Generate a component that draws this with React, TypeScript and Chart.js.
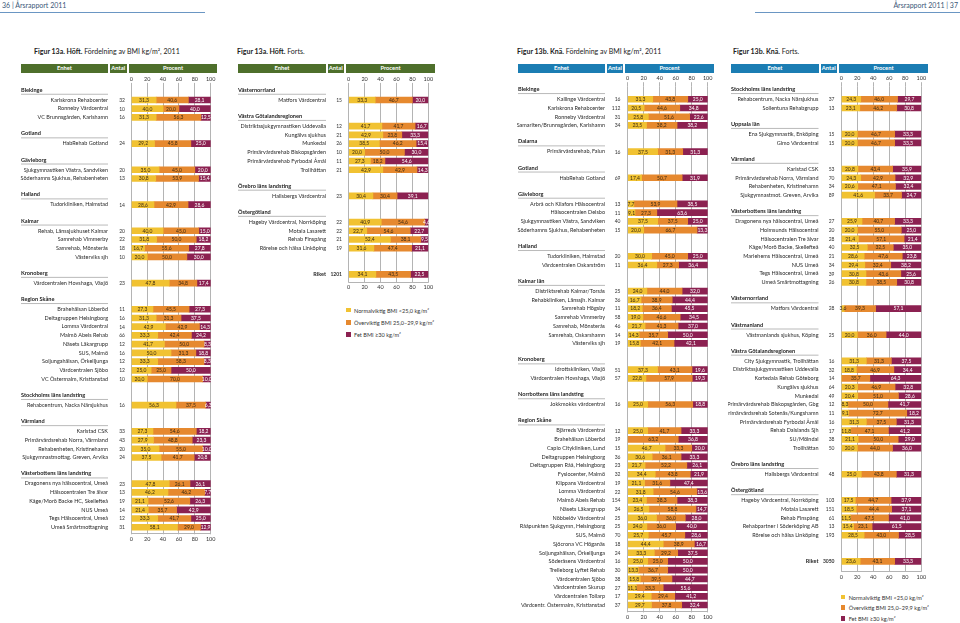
import React, { useEffect, useRef } from 'react';
import { Chart, registerables } from 'chart.js';
Chart.register(...registerables);

const FONT = 'Lato, "Open Sans", sans-serif';
const C_NORMAL = '#F1C232';
const C_OVER = '#E6892F';
const C_FET = '#8C2151';
const GREEN = '#4E6F2B';
const BLUE = '#1B7DB3';
const GRID = '#b4b4b4';

const seriesNames = ['Normalviktig BMI <25,0 kg/m²', 'Överviktig BMI 25,0–29,9 kg/m²', 'Fet BMI ≥30 kg/m²'];
const xTicks = [0, 20, 40, 60, 80, 100];

// ---------- Figur 13a. Höft ----------
const p1Labels = [
  '§Blekinge', 'Karlskrona Rehabcenter', 'Ronneby Vårdcentral', 'VC Brunnsgården, Karlshamn', '',
  '§Gotland', 'HabRehab Gotland', '',
  '§Gävleborg', 'Sjukgymnastiken Västra, Sandviken', 'Söderhamns Sjukhus, Rehabenheten', '',
  '§Halland', 'Tudorkliniken, Halmstad', '',
  '§Kalmar', 'Rehab, Länssjukhuset Kalmar', 'Samrehab Vimmerby', 'Samrehab, Mönsterås', 'Västerviks sjh', '',
  '§Kronoberg', 'Vårdcentralen Hovshaga, Växjö', '',
  '§Region Skåne', 'Brahehälsan Löberöd', 'Deltagruppen Helsingborg', 'Lomma Vårdcentral', 'Malmö Abels Rehab', 'Näsets Läkargrupp', 'SUS, Malmö', 'Soljungahälsan, Örkelljunga', 'Vårdcentralen Sjöbo', 'VC Östermalm, Kristianstad', '',
  '§Stockholms läns landsting', 'Rehabcentrum, Nacka Närsjukhus', '',
  '§Värmland', 'Karlstad CSK', 'Primärvårdsrehab Norra, Värmland', 'Rehabenheten, Kristinehamn', 'Sjukgymnastmottag. Greven, Arvika', '',
  '§Västerbottens läns landsting', 'Dragonens nya hälsocentral, Umeå', 'Hälsocentralen Tre älvar', 'Kåge/Morö Backe HC, Skellefteå', 'NUS Umeå', 'Tegs Hälsocentral, Umeå', 'Umeå Smärtmottagning',
];
const p1Antal = [null, 32, 10, 16, null, null, 24, null, null, 20, 13, null, null, 14, null, null, 20, 22, 18, 10, null, null, 23, null, null, 11, 16, 14, 66, 12, 16, 12, 12, 10, null, null, 16, null, null, 33, 43, 20, 24, null, null, 23, 13, 19, 14, 12, 31];
const p1Normal = [null, 31.3, 40.0, 31.3, null, null, 29.2, null, null, 35.0, 30.8, null, null, 28.6, null, null, 40.0, 31.8, 16.7, 20.0, null, null, 47.8, null, null, 27.3, 31.3, 42.9, 33.3, 41.7, 50.0, 33.3, 25.0, 20.0, null, null, 56.3, null, null, 27.3, 27.9, 35.0, 37.5, null, null, 47.8, 46.2, 21.1, 21.4, 33.3, 58.1];
const p1Over = [null, 40.6, 20.0, 56.3, null, null, 45.8, null, null, 45.0, 53.9, null, null, 42.9, null, null, 45.0, 50.0, 55.6, 50.0, null, null, 34.8, null, null, 45.5, 31.3, 42.9, 42.4, 50.0, 31.3, 58.3, 25.0, 70.0, null, null, 37.5, null, null, 54.6, 48.8, 55.0, 41.7, null, null, 26.1, 46.2, 52.6, 35.7, 41.7, 29.0];
const p1Fet = [null, 28.1, 40.0, 12.5, null, null, 25.0, null, null, 20.0, 15.4, null, null, 28.6, null, null, 15.0, 18.2, 27.8, 30.0, null, null, 17.4, null, null, 27.3, 37.5, 14.3, 24.2, 8.3, 18.8, 8.3, 50.0, 10.0, null, null, 6.3, null, null, 18.2, 23.3, 10.0, 20.8, null, null, 26.1, 7.7, 26.3, 42.9, 25.0, 12.9];

// ---------- Figur 13a. Höft. Forts. ----------
const p2Labels = [
  '§Västernorrland', 'Matfors Vårdcentral', '',
  '§Västra Götalandsregionen', 'Distriktssjukgymnastiken Uddevalla', 'Kungälvs sjukhus', 'Munkedal', 'Primärvårdsrehab Biskopsgården', 'Primärvårdsrehab Fyrbodal Åmål', 'Trollhättan', '',
  '§Örebro läns landsting', 'Hallsbergs Vårdcentral', '',
  '§Östergötland', 'Hageby Vårdcentral, Norrköping', 'Motala Lasarett', 'Rehab Finspång', 'Rörelse och hälsa Linköping', '', '',
  'Riket',
];
const p2Antal = [null, 15, null, null, 12, 21, 26, 10, 11, 21, null, null, 23, null, null, 22, 22, 21, 19, null, null, 1201];
const p2Normal = [null, 33.3, null, null, 41.7, 42.9, 38.5, 20.0, 27.3, 42.9, null, null, 30.4, null, null, 40.9, 22.7, 52.4, 31.6, null, null, 34.1];
const p2Over = [null, 46.7, null, null, 41.7, 23.8, 46.2, 50.0, 18.2, 42.9, null, null, 30.4, null, null, 54.6, 54.6, 38.1, 47.4, null, null, 43.5];
const p2Fet = [null, 20.0, null, null, 16.7, 33.3, 15.4, 30.0, 54.6, 14.3, null, null, 39.1, null, null, 4.6, 22.7, 9.5, 21.1, null, null, 22.5];

// ---------- Figur 13b. Knä ----------
const p3Labels = [
  '§Blekinge', 'Kallinge Vårdcentral', 'Karlskrona Rehabcenter', 'Ronneby Vårdcentral', 'Samariten/Brunnsgården, Karlshamn', '',
  '§Dalarna', 'Primärvårdsrehab, Falun', '',
  '§Gotland', 'HabRehab Gotland', '',
  '§Gävleborg', 'Arbrå och Kilafors Hälsocentral', 'Hälsocentralen Delsbo', 'Sjukgymnastiken Västra, Sandviken', 'Söderhamns Sjukhus, Rehabenheten', '',
  '§Halland', 'Tudorkliniken, Halmstad', 'Vårdcentralen Oskarström', '',
  '§Kalmar län', 'Distriktsrehab Kalmar/Torsås', 'Rehabkliniken, Länssjh. Kalmar', 'Samrehab Högsby', 'Samrehab Vimmerby', 'Samrehab, Mönsterås', 'Samrehab, Oskarshamn', 'Västerviks sjh', '',
  '§Kronoberg', 'Idrottskliniken, Växjö', 'Vårdcentralen Hovshaga, Växjö', '',
  '§Norrbottens läns landsting', 'Jokkmokks vårdcentral', '',
  '§Region Skåne', 'Bjärreds Vårdcentral', 'Brahehälsan Löberöd', 'Capio Citykliniken, Lund', 'Deltagruppen Helsingborg', 'Deltagruppen Råå, Helsingborg', 'Fysiocenter, Malmö', 'Klippans Vårdcentral', 'Lomma Vårdcentral', 'Malmö Abels Rehab', 'Näsets Läkargrupp', 'Nöbbelöv Vårdcentral', 'Rååpunkten Sjukgymn, Helsingborg', 'SUS, Malmö', 'Sjöcrona VC Höganäs', 'Soljungahälsan, Örkelljunga', 'Söderåsens Vårdcentral', 'Trelleborg Lyftet Rehab', 'Vårdcentralen Sjöbo', 'Vårdcentralen Skurup', 'Vårdcentralen Tollarp', 'Vårdcentr. Östermalm, Kristianstad',
];
const p3Antal = [null, 16, 112, 31, 34, null, null, 16, null, null, 69, null, null, 13, 11, 40, 15, null, null, 20, 11, null, null, 25, 36, 11, 58, 46, 14, 19, null, null, 51, 57, null, null, 16, null, null, 12, 19, 15, 36, 23, 32, 19, 22, 154, 34, 25, 25, 70, 18, 24, 16, 30, 38, 27, 17, 37];
const p3Normal = [null, 31.3, 20.5, 25.8, 23.5, null, null, 37.5, null, null, 17.4, null, null, 7.7, 9.1, 37.5, 20.0, null, null, 30.0, 36.4, null, null, 24.0, 16.7, 18.2, 19.0, 21.7, 14.3, 15.8, null, null, 37.3, 22.8, null, null, 25.0, null, null, 25.0, 0, 46.7, 30.6, 21.7, 34.4, 21.1, 31.8, 23.4, 26.5, 36.0, 24.0, 25.7, 44.4, 33.3, 25.0, 13.3, 15.8, 11.1, 29.4, 29.7];
const p3Over = [null, 43.8, 44.6, 51.6, 38.2, null, null, 31.3, null, null, 50.7, null, null, 53.9, 27.3, 37.5, 66.7, null, null, 45.0, 27.3, null, null, 44.0, 38.9, 36.4, 46.6, 41.3, 35.7, 42.1, null, null, 43.1, 57.9, null, null, 56.3, null, null, 41.7, 63.2, 33.3, 36.1, 52.2, 43.8, 31.6, 54.6, 38.3, 58.8, 36.0, 36.0, 45.7, 38.9, 29.2, 25.0, 36.7, 39.5, 33.3, 29.4, 37.8];
const p3Fet = [null, 25.0, 34.8, 22.6, 38.2, null, null, 31.3, null, null, 31.9, null, null, 38.5, 63.6, 25.0, 13.3, null, null, 25.0, 36.4, null, null, 32.0, 44.4, 45.5, 34.5, 37.0, 50.0, 42.1, null, null, 19.6, 19.3, null, null, 18.8, null, null, 33.3, 36.8, 20.0, 33.3, 26.1, 21.9, 47.4, 13.6, 38.3, 14.7, 28.0, 40.0, 28.6, 16.7, 37.5, 50.0, 50.0, 44.7, 55.6, 41.2, 32.4];

// ---------- Figur 13b. Knä. Forts. ----------
const p4Labels = [
  '§Stockholms läns landsting', 'Rehabcentrum, Nacka Närsjukhus', 'Sollentuna Rehabgrupp', '',
  '§Uppsala län', 'Ena Sjukgymnastik, Enköping', 'Gimo Vårdcentral', '',
  '§Värmland', 'Karlstad CSK', 'Primärvårdsrehab Norra, Värmland', 'Rehabenheten, Kristinehamn', 'Sjukgymnastmot. Greven, Arvika', '',
  '§Västerbottens läns landsting', 'Dragonens nya hälsocentral, Umeå', 'Holmsunds Hälsocentral', 'Hälsocentralen Tre älvar', 'Kåge/Morö Backe, Skellefteå', 'Mariehems Hälsocentral, Umeå', 'NUS Umeå', 'Tegs Hälsocentral, Umeå', 'Umeå Smärtmottagning', '',
  '§Västernorrland', 'Matfors Vårdcentral', '',
  '§Västmanland', 'Västmanlands sjukhus, Köping', '',
  '§Västra Götalandsregionen', 'City Sjukgymnastik, Trollhättan', 'Distriktssjukgymnastiken Uddevalla', 'Kortedala Rehab Göteborg', 'Kungälvs sjukhus', 'Munkedal', 'Primärvårdsrehab Biskopsgården, Gbg', 'Primärvårdsrehab Sotenäs/Kungshamn', 'Primärvårdsrehab Fyrbodal Åmål', 'Rehab Dalslands Sjh', 'SU/Mölndal', 'Trollhättan', '',
  '§Örebro läns landsting', 'Hallsbergs Vårdcentral', '',
  '§Östergötland', 'Hageby Vårdcentral, Norrköping', 'Motala Lasarett', 'Rehab Finspång', 'Rehabpartner i Söderköping AB', 'Rörelse och hälsa Linköping', '', '',
  'Riket',
];
const p4Antal = [null, 37, 13, null, null, 15, 15, null, null, 53, 70, 34, 89, null, null, 27, 20, 28, 40, 21, 34, 39, 26, null, null, 28, null, null, 25, null, null, 16, 32, 14, 64, 49, 12, 11, 16, 17, 38, 50, null, null, 48, null, null, 103, 151, 61, 13, 193, null, null, 3050];
const p4Normal = [null, 24.3, 23.1, null, null, 20.0, 20.0, null, null, 20.8, 24.3, 20.6, 41.6, null, null, 25.9, 20.0, 21.4, 32.5, 28.6, 29.4, 30.8, 30.8, null, null, 3.6, null, null, 20.0, null, null, 31.3, 18.8, 0, 20.3, 20.4, 8.3, 9.1, 31.3, 11.8, 21.1, 20.0, null, null, 25.0, null, null, 17.5, 18.5, 11.5, 15.4, 28.5, null, null, 23.6];
const p4Over = [null, 46.0, 46.2, null, null, 46.7, 46.7, null, null, 43.4, 42.9, 47.1, 33.7, null, null, 40.7, 55.0, 57.1, 32.5, 47.6, 32.4, 43.6, 38.5, null, null, 39.3, null, null, 36.0, null, null, 31.3, 46.9, 35.7, 46.9, 51.0, 50.0, 72.7, 37.5, 47.1, 50.0, 44.0, null, null, 43.8, null, null, 44.7, 44.4, 47.5, 23.1, 43.0, null, null, 43.1];
const p4Fet = [null, 29.7, 30.8, null, null, 33.3, 33.3, null, null, 35.9, 32.9, 32.4, 24.7, null, null, 33.3, 25.0, 21.4, 35.0, 23.8, 38.2, 25.6, 30.8, null, null, 57.1, null, null, 44.0, null, null, 37.5, 34.4, 64.3, 32.8, 28.6, 41.7, 18.2, 31.3, 41.2, 29.0, 36.0, null, null, 31.3, null, null, 37.9, 37.1, 41.0, 61.5, 28.5, null, null, 33.3];

type Panel = {
  labels: string[]; antal: (number | null)[]; normal: (number | null)[]; over: (number | null)[]; fet: (number | null)[];
  left: number; namesRight: number; antalRight: number; axis0: number; axis100: number;
  chartTop: number; slot: number; extraBottom: number; bottomPad: number;
  head: string; boxes: [number, number][];
};

const panels: Panel[] = [
  { labels: p1Labels, antal: p1Antal, normal: p1Normal, over: p1Over, fet: p1Fet,
    left: 21, namesRight: 108, antalRight: 125, axis0: 131.3, axis100: 210.7, chartTop: 86.9, slot: 8.72, extraBottom: 2.7, bottomPad: 1.4,
    head: GREEN, boxes: [[21, 108], [109.7, 126.7], [129, 217]] },
  { labels: p2Labels, antal: p2Antal, normal: p2Normal, over: p2Over, fet: p2Fet,
    left: 238, namesRight: 326, antalRight: 342, axis0: 348.7, axis100: 428.3, chartTop: 86.9, slot: 8.72, extraBottom: 4, bottomPad: 1.3,
    head: GREEN, boxes: [[238, 326], [327.5, 344], [346, 435]] },
  { labels: p3Labels, antal: p3Antal, normal: p3Normal, over: p3Over, fet: p3Fet,
    left: 518, namesRight: 605, antalRight: 620.5, axis0: 627.7, axis100: 707.7, chartTop: 86.2, slot: 8.72, extraBottom: 3, bottomPad: 1.5,
    head: BLUE, boxes: [[518, 605], [607, 623], [625, 714]] },
  { labels: p4Labels, antal: p4Antal, normal: p4Normal, over: p4Over, fet: p4Fet,
    left: 731, namesRight: 818.5, antalRight: 834.5, axis0: 841.3, axis100: 921.3, chartTop: 86.2, slot: 8.72, extraBottom: 6, bottomPad: 2.2,
    head: BLUE, boxes: [[731, 819], [820.5, 837], [839, 928]] },
];

const fmt = (v: number) => v.toFixed(1).replace('.', ',');

function PanelChart({ cfg }: { cfg: Panel }) {
  const ref = useRef<HTMLCanvasElement>(null);
  const N = cfg.labels.length;
  const chartBottom = cfg.chartTop + N * cfg.slot;
  const cLeft = cfg.left - 3;
  const cTop = 74;
  const W = Math.round(cfg.axis100 + 9 - cLeft);
  const H = Math.round(chartBottom + cfg.extraBottom + cfg.bottomPad + 10 - cTop);

  useEffect(() => {
    const kinds = cfg.labels.map((l) => (l.startsWith('§') ? 'h' : l === '' ? 'b' : 'd'));
    const names = cfg.labels.map((l) => l.replace('§', ''));
    const overlay = {
      id: 'overlay',
      afterDatasetsDraw(chart: any) {
        const ctx = chart.ctx;
        const ys = chart.scales.y;
        const area = chart.chartArea;
        ctx.save();
        // baseline
        ctx.strokeStyle = GRID;
        ctx.lineWidth = 1;
        const by = Math.round(area.bottom + cfg.extraBottom) - 0.5;
        ctx.beginPath();
        ctx.moveTo(area.left, by);
        ctx.lineTo(area.right, by);
        ctx.stroke();
        // bar value labels
        ctx.font = `5px ${FONT}`;
        ctx.textAlign = 'center';
        ctx.textBaseline = 'middle';
        chart.data.datasets.forEach((ds: any, di: number) => {
          const meta = chart.getDatasetMeta(di);
          meta.data.forEach((el: any, j: number) => {
            const v = ds.data[j];
            if (!v) return;
            const p = el.getProps(['x', 'y', 'base'], true);
            ctx.fillStyle = di === 2 ? '#ffffff' : '#3a2a12';
            ctx.fillText(fmt(v), (p.x + p.base) / 2, p.y + 0.3);
          });
        });
        // group headers and counts
        names.forEach((n, j) => {
          const py = ys.getPixelForValue(j);
          if (kinds[j] === 'h') {
            ctx.font = `bold 5.6px ${FONT}`;
            ctx.fillStyle = '#222';
            ctx.textAlign = 'left';
            ctx.fillText(n, cfg.left - cLeft, py - 1.3);
            ctx.strokeStyle = '#9c9c9c';
            ctx.lineWidth = 0.7;
            ctx.beginPath();
            ctx.moveTo(cfg.left - cLeft, py + 3);
            ctx.lineTo(cfg.namesRight - cLeft, py + 3);
            ctx.stroke();
          }
          const a = cfg.antal[j];
          if (a != null) {
            ctx.font = `${n === 'Riket' ? 'bold ' : ''}5px ${FONT}`;
            ctx.fillStyle = '#333';
            ctx.textAlign = 'right';
            ctx.fillText(String(a), cfg.antalRight - cLeft, py + 0.3);
          }
        });
        ctx.restore();
      },
    };

    const zeroPad = (s: any) => { s.paddingTop = 0; s.paddingBottom = 0; s.paddingLeft = 0; s.paddingRight = 0; };
    const tickFont = { family: FONT, size: 5.5 };
    const chart = new Chart(ref.current as HTMLCanvasElement, {
      type: 'bar',
      data: {
        labels: names,
        datasets: [
          { label: seriesNames[0], data: cfg.normal, backgroundColor: C_NORMAL, barThickness: 6, borderWidth: 0 },
          { label: seriesNames[1], data: cfg.over, backgroundColor: C_OVER, barThickness: 6, borderWidth: 0 },
          { label: seriesNames[2], data: cfg.fet, backgroundColor: C_FET, barThickness: 6, borderWidth: 0 },
        ] as any,
      },
      options: {
        indexAxis: 'y',
        responsive: false,
        animation: false,
        devicePixelRatio: 1,
        layout: { padding: { left: 0, top: 0, bottom: 0, right: W - (cfg.axis100 - cLeft) } },
        plugins: { legend: { display: false }, tooltip: { enabled: false } },
        scales: {
          x: {
            type: 'linear', position: 'bottom', stacked: true, min: 0, max: 100,
            afterBuildTicks: (s: any) => { s.ticks = xTicks.map((v) => ({ value: v })); },
            ticks: { padding: cfg.bottomPad, font: tickFont, color: '#333' },
            grid: { color: GRID, lineWidth: 1, tickLength: cfg.extraBottom, drawTicks: true },
            border: { display: false },
            afterFit: (s: any) => { s.height = H - (chartBottom - cTop); zeroPad(s); },
          },
          xTop: {
            type: 'linear', position: 'top', min: 0, max: 100,
            afterBuildTicks: (s: any) => { s.ticks = xTicks.map((v) => ({ value: v })); },
            ticks: { padding: 0.6, font: tickFont, color: '#333' },
            grid: { drawOnChartArea: false, color: GRID, lineWidth: 1, tickLength: 4 },
            border: { display: false },
            afterFit: (s: any) => { s.height = cfg.chartTop - cTop; zeroPad(s); },
          },
          y: {
            type: 'category', position: 'left', stacked: true, offset: true,
            ticks: {
              autoSkip: false,
              padding: cfg.axis0 - cfg.namesRight,
              callback: (_v: any, i: number) => (kinds[i] === 'd' ? names[i] : ''),
              font: (c: any) => ({ family: FONT, size: 5.5, weight: names[c.index] === 'Riket' ? 'bold' : 'normal' }),
              color: '#2a2a2a',
            },
            grid: { display: false, drawTicks: false },
            border: { display: false },
            afterFit: (s: any) => { s.width = cfg.axis0 - cLeft; zeroPad(s); },
          },
        },
      } as any,
      plugins: [overlay],
    });
    return () => chart.destroy();
  }, []);

  return (
    <canvas
      ref={ref}
      width={W}
      height={H}
      style={{ position: 'absolute', left: cLeft, top: cTop, width: W, height: H }}
    />
  );
}

function HeaderBars({ cfg }: { cfg: Panel }) {
  const texts = ['Enhet', 'Antal', 'Procent'];
  return (
    <>
      {cfg.boxes.map((b, i) => (
        <div
          key={i}
          style={{
            position: 'absolute', left: b[0], top: 64, width: b[1] - b[0], height: 8.5,
            background: cfg.head, color: '#fff', fontFamily: FONT, fontSize: 5.8, fontWeight: 700,
            lineHeight: '8.5px', textAlign: 'center',
          }}
        >
          {texts[i]}
        </div>
      ))}
    </>
  );
}

function Legend({ x, ys }: { x: number; ys: number[] }) {
  const colors = [C_NORMAL, C_OVER, C_FET];
  return (
    <>
      {seriesNames.map((s, i) => (
        <div key={i} style={{ position: 'absolute', left: x, top: ys[i] - 4, height: 8, display: 'flex', alignItems: 'center', fontFamily: FONT, fontSize: 5.6, color: '#333', whiteSpace: 'nowrap' }}>
          <span style={{ display: 'inline-block', width: 4.5, height: 4.5, background: colors[i], marginRight: 3.5 }} />
          {s}
        </div>
      ))}
    </>
  );
}

const titleStyle: React.CSSProperties = { position: 'absolute', top: 47, fontFamily: FONT, fontSize: 7, color: '#222', whiteSpace: 'nowrap' };

export default function App() {
  return (
    <div style={{ position: 'absolute', left: 0, top: 0, width: 960, height: 623, background: '#fff', overflow: 'hidden' }}>
      <div style={{ position: 'absolute', left: 2, top: 1, fontFamily: FONT, fontSize: 7, color: '#3b5878', whiteSpace: 'nowrap' }}>36 | Årsrapport 2011</div>
      <div style={{ position: 'absolute', left: 0, top: 12, width: 205, height: 1, background: '#6a96c3' }} />
      <div style={{ position: 'absolute', right: 2, top: 1, fontFamily: FONT, fontSize: 7, color: '#3b5878', whiteSpace: 'nowrap' }}>Årsrapport 2011 | 37</div>
      <div style={{ position: 'absolute', left: 755, top: 12, width: 205, height: 1, background: '#6a96c3' }} />

      <div style={{ ...titleStyle, left: 34 }}><b>Figur 13a. Höft.</b> Fördelning av BMI kg/m², 2011</div>
      <div style={{ ...titleStyle, left: 237 }}><b>Figur 13a. Höft.</b> Forts.</div>
      <div style={{ ...titleStyle, left: 517 }}><b>Figur 13b. Knä.</b> Fördelning av BMI kg/m², 2011</div>
      <div style={{ ...titleStyle, left: 733 }}><b>Figur 13b. Knä.</b> Forts.</div>

      {panels.map((p, i) => (
        <React.Fragment key={i}>
          <HeaderBars cfg={p} />
          <PanelChart cfg={p} />
        </React.Fragment>
      ))}

      <Legend x={346} ys={[310, 322.3, 334.3]} />
      <Legend x={840.7} ys={[597, 607.7, 618.5]} />
    </div>
  );
}
